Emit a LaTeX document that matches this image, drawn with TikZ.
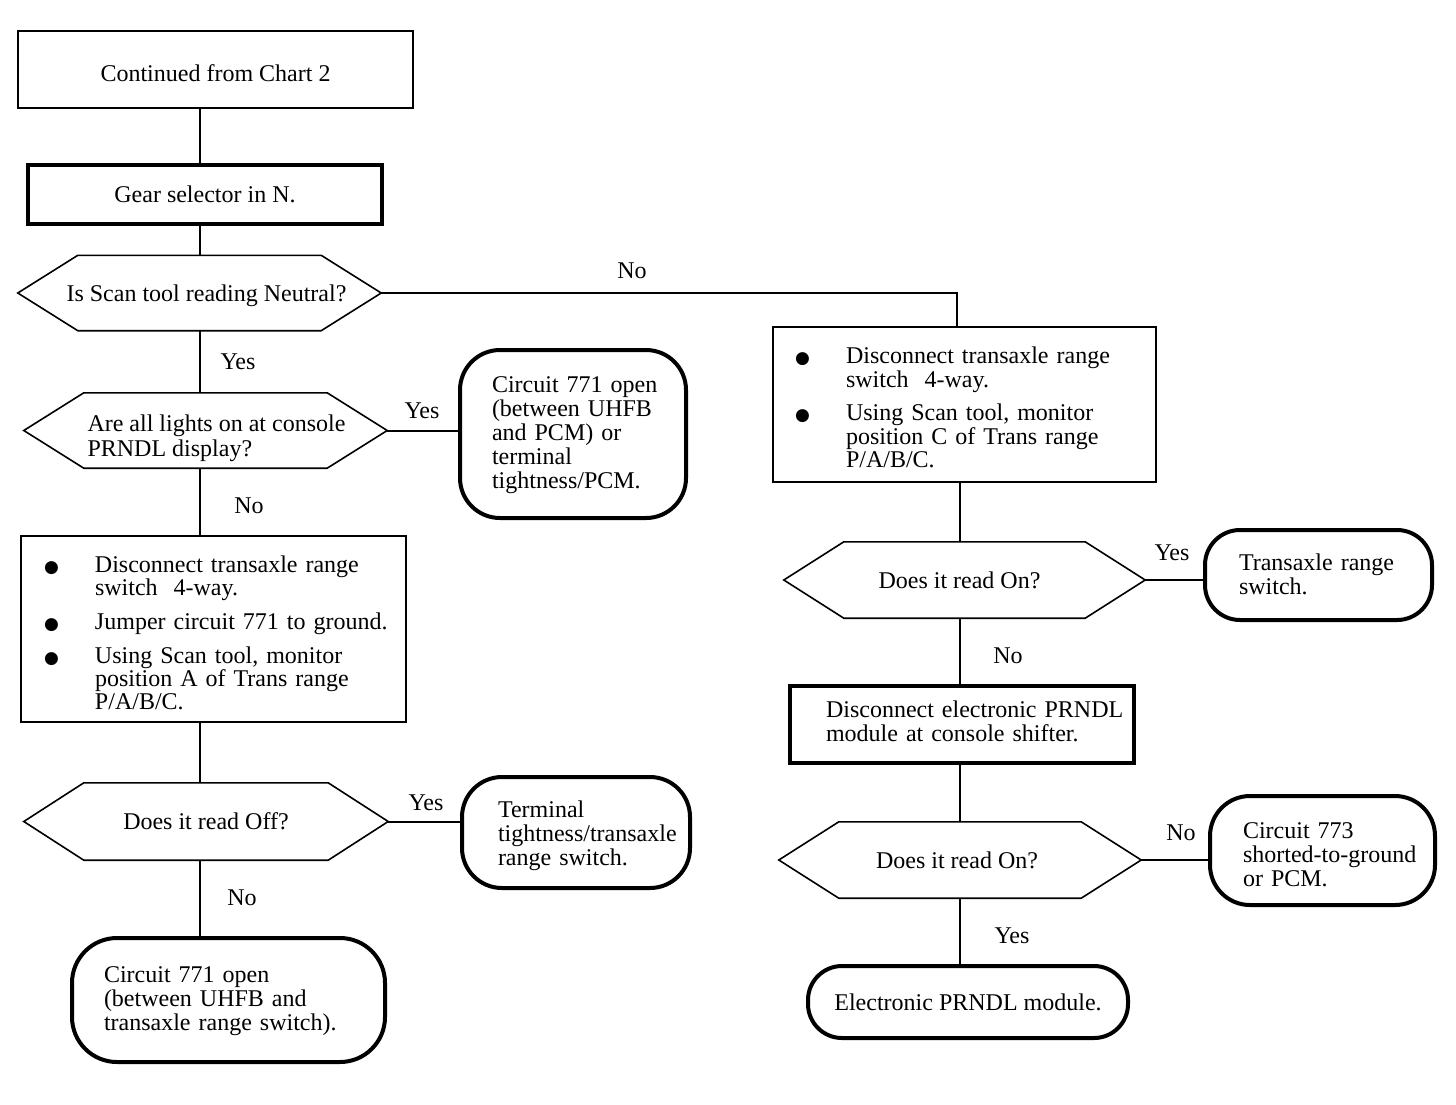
\documentclass[tikz,border=0pt]{standalone}
\usepackage{fontspec}
\setmainfont{Liberation Serif}
\newfontfamily\dejavu{DejaVu Sans}
\setlength{\parindent}{0pt}
\newcommand\bul{\makebox[51pt][l]{\fontsize{17}{17}\dejavu ●}}
\newcommand\lines[1]{\begin{tabular}{@{}l@{}}#1\end{tabular}}
\newcommand\off[3]{\raisebox{-#2}[\height][\depth]{\hspace*{#1}#3\hspace*{-#1}}}
\newcommand\hexdraw[1]{\draw[hexline] (#1.west) -- ([xshift=60pt]#1.north west) -- ([xshift=-60pt]#1.north east) -- (#1.east) -- ([xshift=-60pt]#1.south east) -- ([xshift=60pt]#1.south west) -- cycle;}
\begin{document}
\begin{tikzpicture}[x=1pt,y=-1pt,
  base/.style={font=\fontsize{24}{24}\selectfont, inner sep=0pt},
  thinbox/.style={base, draw, line width=1.8pt},
  thickbox/.style={base, draw, line width=3.5pt},
  term/.style={base, draw, line width=4pt, rounded corners=#1},
  term/.default=40pt,
  hexn/.style={base},
  hexline/.style={line width=1.6pt, line join=miter},
  conn/.style={line width=2pt},
  lab/.style={base},
  lt/.style 2 args={text width=#1, inner xsep=#2, align=left},
  bulfont/.style={font=\fontsize{24}{22.5}\selectfont}
]
\fill[white] (0,0) rectangle (1456,1104);
\useasboundingbox (0,0) rectangle (1456,1104);

\coordinate (colL) at (200,0);
\coordinate (colR) at (960,0);
\coordinate (colRa) at (957,0);

% left column
\node[thinbox, minimum width=395pt, minimum height=77pt] (c1) at (215.5,69.5) {\off{0pt}{4pt}{Continued from Chart 2}};
\node[thickbox, minimum width=354pt, minimum height=59pt] (g1) at (205,194.5) {Gear selector in N.};
\node[hexn, minimum width=363pt, minimum height=75pt] (h1) at (199.5,293) {\off{7pt}{3pt}{Is Scan tool reading Neutral?}};
\hexdraw{h1}
\node[hexn, minimum width=363pt, minimum height=75pt] (h2) at (205.5,430.5) {\off{11pt}{9pt}{\lines{Are all lights on at console\\[1pt]PRNDL display?}}};
\hexdraw{h2}
\node[term, minimum width=226pt, minimum height=168pt, lt={162pt}{32pt}] (rb1) at (573,434) {\off{0pt}{2pt}{\lines{Circuit 771 open\\(between UHFB\\and PCM) or\\terminal\\tightness/PCM.}}};
\node[thinbox, bulfont, minimum width=385pt, minimum height=186pt, lt={339pt}{23pt}] (b1) at (213.5,629) {\off{0pt}{7pt}{%
\begin{tabular}{@{}l@{}l@{}}
\bul & Disconnect transaxle range\\
 & switch~ 4-way.\\[10pt]
\bul & Jumper circuit 771 to ground.\\[10.5pt]
\bul & Using Scan tool, monitor\\
 & position A of Trans range\\
 & P/A/B/C.
\end{tabular}}};
\node[hexn, minimum width=364pt, minimum height=77pt] (h3) at (206,821.5) {Does it read Off?};
\hexdraw{h3}
\node[term, minimum width=228pt, minimum height=111pt, lt={156pt}{36pt}] (rb2) at (576,832.5) {\off{0pt}{4pt}{\lines{Terminal\\tightness/transaxle\\range switch.}}};
\node[term=45pt, minimum width=313pt, minimum height=124pt, lt={249pt}{32pt}] (rb3) at (228.5,1000) {\off{0pt}{2pt}{\lines{Circuit 771 open\\(between UHFB and\\transaxle range switch).}}};

% right column
\node[thinbox, bulfont, minimum width=383pt, minimum height=155pt, lt={339pt}{22pt}] (r1) at (964.5,404.5) {\off{0pt}{6pt}{%
\begin{tabular}{@{}l@{}l@{}}
\bul & Disconnect transaxle range\\
 & switch~ 4-way.\\[10pt]
\bul & Using Scan tool, monitor\\
 & position C of Trans range\\
 & P/A/B/C.
\end{tabular}}};
\node[hexn, minimum width=361pt, minimum height=76pt] (h4) at (964.5,580) {\off{-5pt}{0pt}{Does it read On?}};
\hexdraw{h4}
\node[term=35pt, minimum width=227pt, minimum height=90pt, lt={159pt}{34pt}] (rb4) at (1318.5,575) {\off{0pt}{3pt}{\lines{Transaxle range\\switch.}}};
\node[thickbox, minimum width=344pt, minimum height=77pt, lt={272pt}{36pt}] (e1) at (962,724.5) {\lines{Disconnect electronic PRNDL\\module at console shifter.}};
\node[hexn, minimum width=362pt, minimum height=76pt] (h5) at (960,860) {\off{-3pt}{0pt}{Does it read On?}};
\hexdraw{h5}
\node[term, minimum width=225pt, minimum height=109pt, lt={159pt}{33pt}] (rb5) at (1322.5,850.5) {\off{0pt}{7pt}{\lines{Circuit 773\\shorted-to-ground\\or PCM.}}};
\node[term=34pt, minimum width=320pt, minimum height=72pt] (rb6) at (968,1002) {Electronic PRNDL module.};

% connectors
\draw[conn] (c1.south -| colL) -- (g1.north -| colL);
\draw[conn] (g1.south -| colL) -- (h1.north -| colL);
\draw[conn] (h1.east) -| (r1.north -| colRa);
\draw[conn] (h1.south -| colL) -- (h2.north -| colL);
\draw[conn] (h2.east) -- (h2.east -| rb1.west);
\draw[conn] (h2.south -| colL) -- (b1.north -| colL);
\draw[conn] (b1.south -| colL) -- (h3.north -| colL);
\draw[conn] (h3.east) -- (h3.east -| rb2.west);
\draw[conn] (h3.south -| colL) -- (rb3.north -| colL);
\draw[conn] (r1.south -| colR) -- (h4.north -| colR);
\draw[conn] (h4.east) -- (h4.east -| rb4.west);
\draw[conn] (h4.south -| colR) -- (e1.north -| colR);
\draw[conn] (e1.south -| colR) -- (h5.north -| colR);
\draw[conn] (h5.east) -- (h5.east -| rb5.west);
\draw[conn] (h5.south -| colR) -- (rb6.north -| colR);

% labels
\node[lab] (l1) at (632,271) {No};
\node[lab] (l2) at (238,362) {Yes};
\node[lab] (l3) at (422,411) {Yes};
\node[lab] (l4) at (249,506) {No};
\node[lab] (l5) at (426,803) {Yes};
\node[lab] (l6) at (242,898) {No};
\node[lab] (l7) at (1172,553) {Yes};
\node[lab] (l8) at (1008,656) {No};
\node[lab] (l9) at (1181,833) {No};
\node[lab] (l10) at (1012,936) {Yes};
\end{tikzpicture}
\end{document}
